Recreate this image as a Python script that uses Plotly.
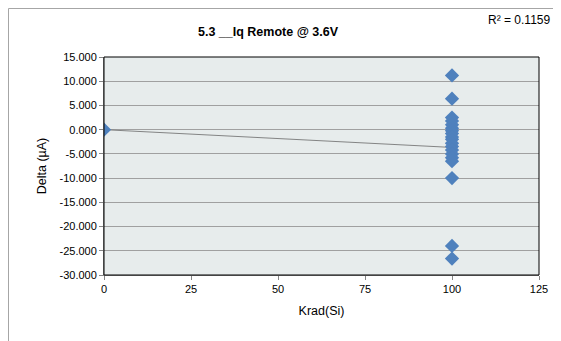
import numpy as np
import plotly.graph_objects as go

# ---- data ----
krad = [0] + [100] * 19
delta = [0.0,
         11.2, 6.4, 2.5, 1.8, 1.0, 0.3, -0.2, -0.8, -1.5, -2.0,
         -2.8, -3.5, -4.2, -5.0, -5.8, -6.5, -10.0, -24.0, -26.6]
title_text = "5.3 __Iq Remote @ 3.6V"
x_title = "Krad(Si)"
y_title = "Delta (µA)"
r2_text = "R² = 0.1159"
x_ticks = [0, 25, 50, 75, 100, 125]
y_ticks = [15, 10, 5, 0, -5, -10, -15, -20, -25, -30]

# linear trend line fitted from the data
slope, intercept = np.polyfit(krad, delta, 1)
trend_x = [min(krad), max(krad)]
trend_y = [slope * v + intercept for v in trend_x]

FONT = "Liberation Sans"

fig = go.Figure()
fig.add_trace(go.Scatter(x=trend_x, y=trend_y, mode="lines",
                         line=dict(color="#6a6a6a", width=0.8), hoverinfo="skip",
                         showlegend=False))
fig.add_trace(go.Scatter(x=krad, y=delta, mode="markers",
                         marker=dict(symbol="diamond", size=11, color="#4F81BD",
                                     line=dict(width=0)),
                         showlegend=False))

# page has an 8px body margin, so the figure is laid out 8px smaller
W, H = 553, 333
L, R, T, B = 96, 22, 49, 66
pw, ph = W - L - R, H - T - B

fig.update_layout(
    width=W, height=H,
    margin=dict(l=L, r=R, t=T, b=B),
    paper_bgcolor="white",
    plot_bgcolor="#E7ECEC",
    font=dict(family=FONT, size=11, color="#000000"),
    title=dict(text="<b>" + title_text + "</b>", x=260 / W, xanchor="center",
               y=1 - 24 / H, yanchor="middle", font=dict(size=12.5, family=FONT)),
    xaxis=dict(range=[0, 125], tickvals=x_ticks, ticktext=[str(v) for v in x_ticks],
               showgrid=False, zeroline=False, showline=True, linecolor="#868686",
               linewidth=1, ticks="outside", ticklen=4, tickcolor="#868686",
               title=dict(text=x_title, font=dict(size=12.5), standoff=12),
               tickfont=dict(size=11)),
    yaxis=dict(range=[-30, 15], tickvals=y_ticks,
               ticktext=[f"{v:.3f}" for v in y_ticks],
               showgrid=True, gridcolor="#A0A0A0", gridwidth=1,
               zeroline=False, showline=True, linecolor="#868686", linewidth=1,
               ticks="outside", ticklen=4, tickcolor="#868686",
               title=dict(text=y_title, font=dict(size=12.5), standoff=10),
               tickfont=dict(size=11)),
    shapes=[
        dict(type="rect", xref="paper", yref="paper", x0=0, x1=1, y0=0, y1=1,
             line=dict(color="#000000", width=1), layer="above"),
        dict(type="rect", xref="paper", yref="paper",
             x0=(0.5 - L) / pw, x1=(W + 20 - L) / pw,
             y0=-(H + 20 - T - ph) / ph, y1=1 + (T - 0.5) / ph,
             line=dict(color="#A6A6A6", width=1), layer="below"),
    ],
    annotations=[
        dict(text=r2_text, xref="paper", yref="paper",
             x=(478 - L) / pw, xanchor="left", y=1 + (T - 12) / ph, yanchor="middle",
             showarrow=False, font=dict(size=12, family=FONT)),
    ],
)

fig.write_html("out.html")
